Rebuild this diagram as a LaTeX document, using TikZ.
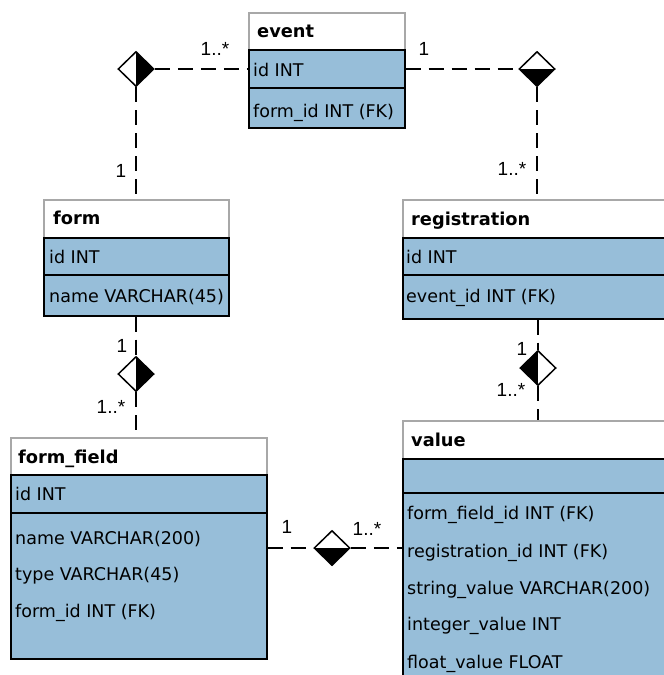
\documentclass[tikz,border=0pt]{standalone}
\usepackage{fontspec}
\setmainfont{DejaVu Sans}
\newfontfamily\lblfont{Liberation Sans}
\usetikzlibrary{shapes.geometric}
\definecolor{rowblue}{HTML}{97BED9}
\definecolor{headgray}{HTML}{A8A8A8}

\begin{document}
\begin{tikzpicture}[x=1pt,y=-1pt,
  % table parts
  head/.style={draw=headgray, fill=white, line width=1.5pt, inner sep=0pt, anchor=north west},
  sect/.style={draw=black, fill=rowblue, line width=1.6pt, inner sep=0pt, anchor=north west},
  htext/.style={anchor=base west, inner sep=0pt, font=\fontsize{17.8}{20}\selectfont\bfseries},
  rtext/.style={anchor=base west, inner sep=0pt, font=\fontsize{17.5}{20}\selectfont},
  % relationship diamonds
  dia/.style={shape=diamond, draw=black, fill=white, line width=1.5pt,
              minimum width=36pt, minimum height=35pt, inner sep=0pt},
  halfE/.style={path picture={\fill[black] (path picture bounding box.north) rectangle (path picture bounding box.south east);}},
  halfW/.style={path picture={\fill[black] (path picture bounding box.north west) rectangle (path picture bounding box.south);}},
  halfS/.style={path picture={\fill[black] (path picture bounding box.west) rectangle (path picture bounding box.south east);}},
  conn/.style={draw=black, line width=1.6pt, dash pattern=on 15pt off 8pt},
  lbl/.style={anchor=base, inner sep=0pt, font=\lblfont\fontsize{19}{21}\selectfont}]

\clip (0,0) rectangle (664,675);
\fill[white] (0,0) rectangle (664,675);

% ---- event ----
\node[head, minimum width=156pt, minimum height=37pt] (evh) at (248,12) {};
\node[sect, minimum width=156pt, minimum height=38pt] (evid) at (248,49) {};
\node[sect, minimum width=156pt, minimum height=40pt] (evfk) at (248,87) {};
\node[htext] (evht) at (257,37) {event};
\node[rtext] (evt1) at (253,76) {id INT};
\node[rtext] (evt2) at (253,117) {form\_id INT (FK)};

% ---- form ----
\node[head, minimum width=185pt, minimum height=38pt] (fmh) at (43,199) {};
\node[sect, minimum width=185pt, minimum height=37pt] (fmid) at (43,237) {};
\node[sect, minimum width=185pt, minimum height=41pt] (fmfk) at (43,274) {};
\node[htext] (fmht) at (53,224) {form};
\node[rtext] (fmt1) at (49,263) {id INT};
\node[rtext] (fmt2) at (49,302) {name VARCHAR(45)};

% ---- registration ----
\node[head, minimum width=300pt, minimum height=38pt] (rgh) at (402,199) {};
\node[sect, minimum width=300pt, minimum height=37pt] (rgid) at (402,237) {};
\node[sect, minimum width=300pt, minimum height=44pt] (rgfk) at (402,274) {};
\node[htext] (rght) at (411,225) {registration};
\node[rtext] (rgt1) at (406,263) {id INT};
\node[rtext] (rgt2) at (406,302) {event\_id INT (FK)};

% ---- form_field ----
\node[head, minimum width=256pt, minimum height=37pt] (ffh) at (10,437) {};
\node[sect, minimum width=256pt, minimum height=38pt] (ffid) at (10,474) {};
\node[sect, minimum width=256pt, minimum height=146pt] (ffb) at (10,512) {};
\node[htext] (ffht) at (18,463) {form\_field};
\node[rtext] (fft1) at (15,500) {id INT};
\node[rtext] (fft2) at (15,544) {name VARCHAR(200)};
\node[rtext] (fft3) at (15,580) {type VARCHAR(45)};
\node[rtext] (fft4) at (15,617) {form\_id INT (FK)};

% ---- value ----
\node[head, minimum width=300pt, minimum height=38pt] (vah) at (402,420) {};
\node[sect, minimum width=300pt, minimum height=34pt] (vaid) at (402,458) {};
\node[sect, minimum width=300pt, minimum height=220pt] (vab) at (402,492) {};
\node[htext] (vaht) at (411,446) {value};
\node[rtext] (vat1) at (407,519) {form\_field\_id INT (FK)};
\node[rtext] (vat2) at (407,557) {registration\_id INT (FK)};
\node[rtext] (vat3) at (407,594) {string\_value VARCHAR(200)};
\node[rtext] (vat4) at (407,630) {integer\_value INT};
\node[rtext] (vat5) at (407,668) {float\_value FLOAT};

% ---- relationships ----
\node[dia, halfE] (d1) at (136,69) {};
\node[dia, halfS] (d2) at (537,69) {};
\node[dia, halfE] (d3) at (136,374) {};
\node[dia, halfW] (d4) at (538,368) {};
\node[dia, halfS] (d5) at (332,548) {};

\draw[conn] (d1.east) -- (d1.east -| evid.west);
\draw[conn] (d1.south) -- (d1.south |- fmh.north);
\draw[conn] (d2.west -| evid.east) -- (d2.west);
\draw[conn] (d2.south) -- (d2.south |- rgh.north);
\draw[conn] (d3.north |- fmfk.south) -- (d3.north);
\draw[conn] (d3.south) -- (d3.south |- ffh.north);
\draw[conn] (d4.north |- rgfk.south) -- (d4.north);
\draw[conn] (d4.south) -- (d4.south |- vah.north);
\draw[conn] (d5.west -| ffb.east) -- (d5.west);
\draw[conn] (d5.east) -- (d5.east -| vab.west);

% ---- multiplicities ----
\node[lbl] (m1) at (215,55) {1..*};
\node[lbl] (m2) at (424,55) {1};
\node[lbl] (m3) at (121,177) {1};
\node[lbl] (m4) at (512,175) {1..*};
\node[lbl] (m5) at (122,352) {1};
\node[lbl] (m6) at (111,413) {1..*};
\node[lbl] (m7) at (522,355) {1};
\node[lbl] (m8) at (511,396) {1..*};
\node[lbl] (m9) at (287,533) {1};
\node[lbl] (m10) at (367,535) {1..*};
\end{tikzpicture}
\end{document}
